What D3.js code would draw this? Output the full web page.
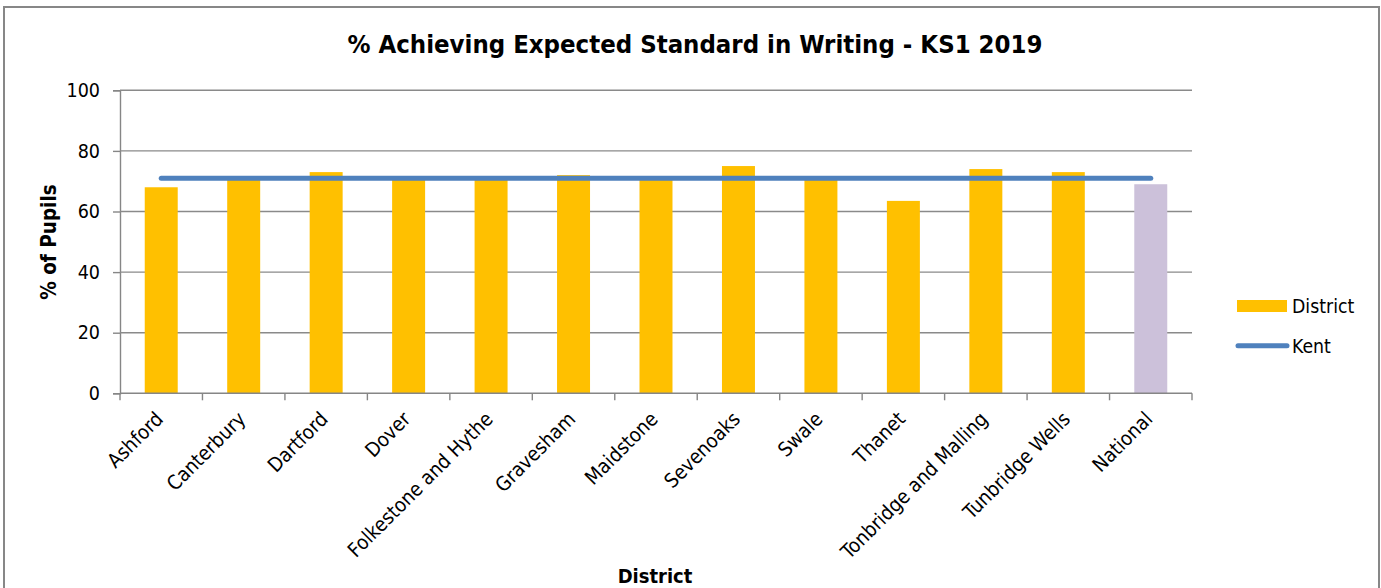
<!DOCTYPE html>
<html>
<head>
<meta charset="utf-8">
<script src="https://cdn.jsdelivr.net/npm/d3@7"></script>
<style>
  html, body { margin: 0; padding: 0; background: #fff; }
  svg { display: block; }
  text { font-family: "DejaVu Sans Condensed", "DejaVu Sans", sans-serif; fill: #000; }
</style>
</head>
<body>
<svg id="chart" width="1381" height="588"></svg>
<script>
// District results, KS1 2019 writing
const categories = ["Ashford", "Canterbury", "Dartford", "Dover", "Folkestone and Hythe",
  "Gravesham", "Maidstone", "Sevenoaks", "Swale", "Thanet", "Tonbridge and Malling",
  "Tunbridge Wells", "National"];
const districtValues = [68, 71, 73, 71, 71, 72, 71, 75, 71, 63.5, 74, 73, 69];
const kentValues = [71, 71, 71, 71, 71, 71, 71, 71, 71, 71, 71, 71, 71];
const yTicks = [0, 20, 40, 60, 80, 100];

const svg = d3.select("#chart");
const plot = { left: 120, right: 1192, top: 90.3, bottom: 393.3 };
const FONT = "'DejaVu Sans Condensed', 'DejaVu Sans', sans-serif";

// chart frame
svg.append("rect")
  .attr("x", 4).attr("y", 7).attr("width", 1375).attr("height", 600)
  .attr("fill", "#fff").attr("stroke", "#878787").attr("stroke-width", 2);

const x = d3.scaleBand().domain(categories)
  .range([plot.left, plot.right]).paddingInner(0.6).paddingOuter(0.3);
const y = d3.scaleLinear().domain([0, 100]).range([plot.bottom, plot.top]);

// y axis with outside ticks
const yAxis = d3.axisLeft(y).tickValues(yTicks).tickSize(7).tickPadding(13);
const gy = svg.append("g").attr("transform", `translate(${plot.left},0)`).call(yAxis);
gy.select(".domain").attr("stroke", "#868686").attr("stroke-width", 1.4);
gy.selectAll(".tick line").attr("stroke", "#868686").attr("stroke-width", 1.4);
gy.selectAll(".tick text").attr("font-size", 19.5).attr("fill", "#000")
  .style("font-family", FONT);

// horizontal gridlines
svg.append("g").selectAll("line").data(yTicks.filter(d => d > 0)).join("line")
  .attr("x1", plot.left).attr("x2", plot.right)
  .attr("y1", d => y(d)).attr("y2", d => y(d))
  .attr("stroke", "#8a8a8a").attr("stroke-width", 1.4);

// bars
svg.append("g").selectAll("rect").data(categories).join("rect")
  .attr("x", d => x(d))
  .attr("width", x.bandwidth())
  .attr("y", (d, i) => y(districtValues[i]))
  .attr("height", (d, i) => y(0) - y(districtValues[i]))
  .attr("fill", d => d === "National" ? "#CCC1DA" : "#FFC000");

// x axis line with category boundary ticks
svg.append("line")
  .attr("x1", plot.left).attr("x2", plot.right)
  .attr("y1", y(0)).attr("y2", y(0))
  .attr("stroke", "#868686").attr("stroke-width", 1.4);
const step = x.step();
svg.append("g").selectAll("line").data(d3.range(categories.length + 1)).join("line")
  .attr("x1", i => plot.left + i * step).attr("x2", i => plot.left + i * step)
  .attr("y1", y(0)).attr("y2", y(0) + 7)
  .attr("stroke", "#868686").attr("stroke-width", 1.4);

// rotated category labels
svg.append("g").selectAll("text").data(categories).join("text")
  .attr("transform", d => `translate(${x(d) + x.bandwidth() / 2 + 3},${y(0) + 27}) rotate(-45)`)
  .attr("text-anchor", "end")
  .attr("font-size", 20)
  .text(d => d);

// Kent average line
const line = d3.line()
  .x((d, i) => x(categories[i]) + x.bandwidth() / 2)
  .y(d => y(d));
svg.append("path").datum(kentValues)
  .attr("d", line)
  .attr("fill", "none").attr("stroke", "#4F81BD")
  .attr("stroke-width", 5).attr("stroke-linecap", "round");

// title and axis titles
svg.append("text").attr("x", 695).attr("y", 53).attr("text-anchor", "middle")
  .attr("font-size", 25.5).attr("font-weight", "bold")
  .text("% Achieving Expected Standard in Writing - KS1 2019");
svg.append("text").attr("x", 655).attr("y", 583).attr("text-anchor", "middle")
  .attr("font-size", 20).attr("font-weight", "bold").text("District");
svg.append("text").attr("transform", "translate(56,242) rotate(-90)")
  .attr("text-anchor", "middle")
  .attr("font-size", 20.5).attr("font-weight", "bold").text("% of Pupils");

// legend
const legend = svg.append("g");
legend.append("rect").attr("x", 1237).attr("y", 300).attr("width", 50).attr("height", 12)
  .attr("fill", "#FFC000");
legend.append("text").attr("x", 1292).attr("y", 313).attr("font-size", 19.3).text("District");
legend.append("line").attr("x1", 1238).attr("x2", 1287).attr("y1", 345.7).attr("y2", 345.7)
  .attr("stroke", "#4F81BD").attr("stroke-width", 5).attr("stroke-linecap", "round");
legend.append("text").attr("x", 1292).attr("y", 353).attr("font-size", 19.3).text("Kent");
</script>
</body>
</html>
